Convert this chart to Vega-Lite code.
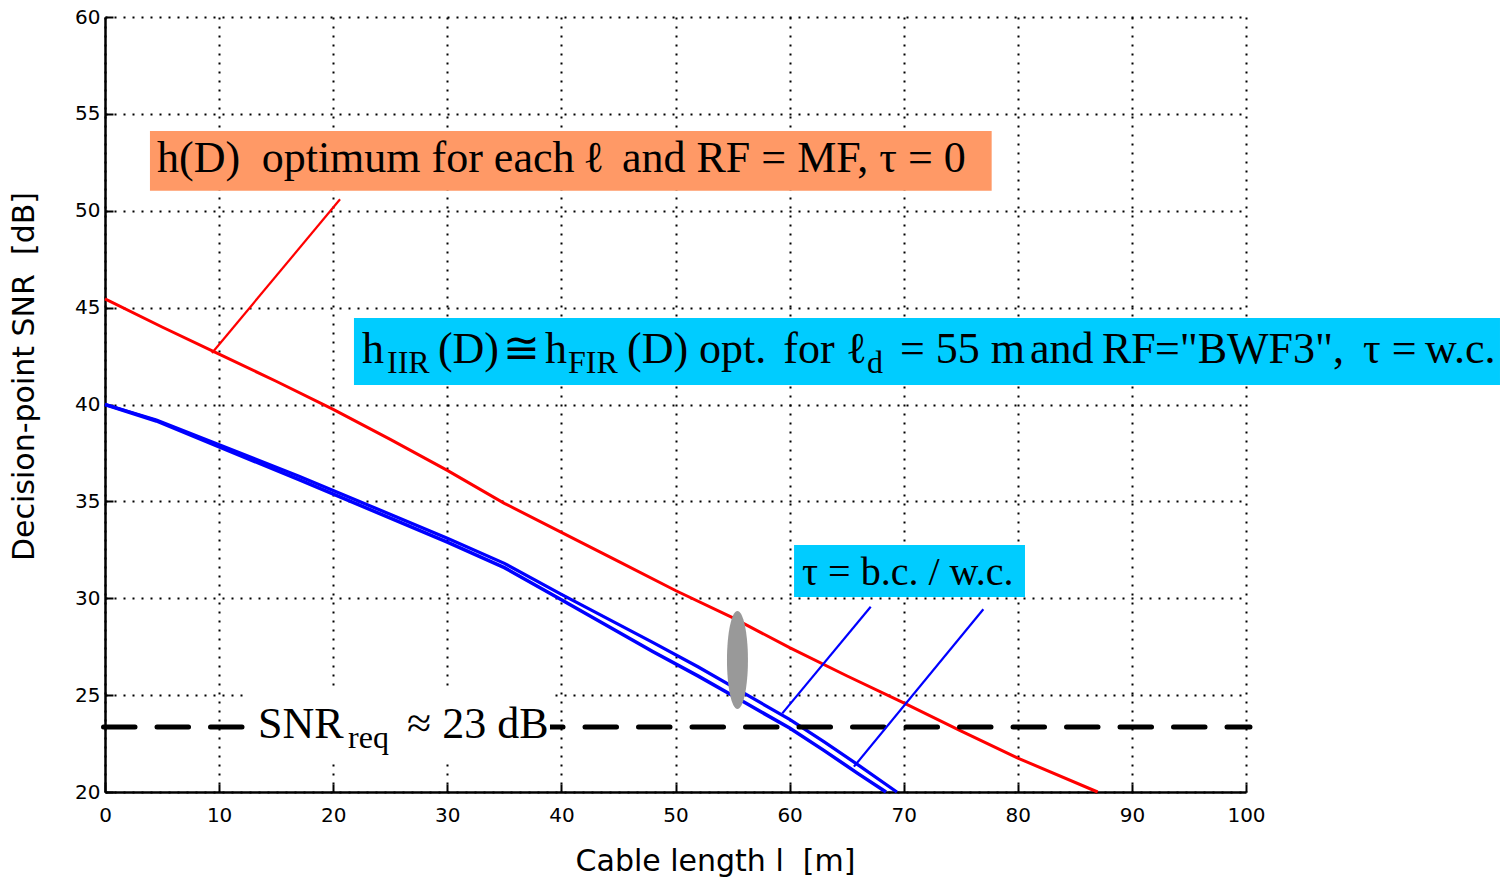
{
  "$schema": "https://vega.github.io/schema/vega-lite/v6.json",
  "width": 1141,
  "height": 775,
  "autosize": {"type": "none"},
  "padding": {"left": 105, "top": 17, "right": 258, "bottom": 90},
  "background": "white",
  "config": {
    "view": {"stroke": null},
    "axis": {
      "grid": true,
      "gridColor": "#000000",
      "gridDash": [2, 7],
      "gridWidth": 2,
      "gridOpacity": 1,
      "domainColor": "#000000",
      "domainWidth": 2.5,
      "tickColor": "#000000",
      "tickSize": -8,
      "tickWidth": 2,
      "labelFont": "DejaVu Sans",
      "labelFontSize": 20,
      "labelColor": "#000000",
      "labelFlush": false,
      "labelOverlap": false,
      "titleFont": "DejaVu Sans",
      "titleFontSize": 30,
      "titleFontWeight": "normal",
      "titleColor": "#000000"
    }
  },
  "datasets": {
    "curves": [
      {"series": "h(D) optimum, RF = MF, τ = 0", "length": 0, "snr": 45.45},
      {"series": "h(D) optimum, RF = MF, τ = 0", "length": 5, "snr": 44.0},
      {"series": "h(D) optimum, RF = MF, τ = 0", "length": 10, "snr": 42.6},
      {"series": "h(D) optimum, RF = MF, τ = 0", "length": 15, "snr": 41.2},
      {"series": "h(D) optimum, RF = MF, τ = 0", "length": 20, "snr": 39.75},
      {"series": "h(D) optimum, RF = MF, τ = 0", "length": 25, "snr": 38.2},
      {"series": "h(D) optimum, RF = MF, τ = 0", "length": 30, "snr": 36.6},
      {"series": "h(D) optimum, RF = MF, τ = 0", "length": 35, "snr": 34.9},
      {"series": "h(D) optimum, RF = MF, τ = 0", "length": 40, "snr": 33.4},
      {"series": "h(D) optimum, RF = MF, τ = 0", "length": 45, "snr": 31.9},
      {"series": "h(D) optimum, RF = MF, τ = 0", "length": 50, "snr": 30.4},
      {"series": "h(D) optimum, RF = MF, τ = 0", "length": 55, "snr": 29.0},
      {"series": "h(D) optimum, RF = MF, τ = 0", "length": 60, "snr": 27.45},
      {"series": "h(D) optimum, RF = MF, τ = 0", "length": 65, "snr": 26.0},
      {"series": "h(D) optimum, RF = MF, τ = 0", "length": 70, "snr": 24.6},
      {"series": "h(D) optimum, RF = MF, τ = 0", "length": 75, "snr": 23.15},
      {"series": "h(D) optimum, RF = MF, τ = 0", "length": 80, "snr": 21.75},
      {"series": "h(D) optimum, RF = MF, τ = 0", "length": 87, "snr": 20.0},
      {"series": "τ = b.c.", "length": 0, "snr": 40.0},
      {"series": "τ = b.c.", "length": 4.5, "snr": 39.2},
      {"series": "τ = b.c.", "length": 17, "snr": 36.3},
      {"series": "τ = b.c.", "length": 30, "snr": 33.1},
      {"series": "τ = b.c.", "length": 35, "snr": 31.8},
      {"series": "τ = b.c.", "length": 40, "snr": 30.2},
      {"series": "τ = b.c.", "length": 48, "snr": 27.72},
      {"series": "τ = b.c.", "length": 52, "snr": 26.45},
      {"series": "τ = b.c.", "length": 56, "snr": 25.1},
      {"series": "τ = b.c.", "length": 60, "snr": 23.75},
      {"series": "τ = b.c.", "length": 63, "snr": 22.6},
      {"series": "τ = b.c.", "length": 66, "snr": 21.4},
      {"series": "τ = b.c.", "length": 69.4, "snr": 20.0},
      {"series": "τ = w.c.", "length": 0, "snr": 40.0},
      {"series": "τ = w.c.", "length": 4.5, "snr": 39.15},
      {"series": "τ = w.c.", "length": 17, "snr": 36.12},
      {"series": "τ = w.c.", "length": 30, "snr": 32.9},
      {"series": "τ = w.c.", "length": 35, "snr": 31.58},
      {"series": "τ = w.c.", "length": 40, "snr": 29.92},
      {"series": "τ = w.c.", "length": 48, "snr": 27.25},
      {"series": "τ = w.c.", "length": 52, "snr": 25.98},
      {"series": "τ = w.c.", "length": 56, "snr": 24.64},
      {"series": "τ = w.c.", "length": 60, "snr": 23.3},
      {"series": "τ = w.c.", "length": 63, "snr": 22.15},
      {"series": "τ = w.c.", "length": 66, "snr": 20.95},
      {"series": "τ = w.c.", "length": 68.45, "snr": 20.0}
    ],
    "requirement": [
      {"length": -0.13, "length2": 100.35, "snr": 23.35}
    ],
    "boxes": [
      {"box": "title", "length": 3.94, "length2": 77.71, "snr": 54.12, "snr2": 51.03},
      {"box": "filter", "length": 21.82, "length2": 122.26, "snr": 44.46, "snr2": 41.01},
      {"box": "tau", "length": 60.39, "length2": 80.63, "snr": 32.75, "snr2": 30.06},
      {"box": "mask", "length": 12.27, "length2": 39.0, "snr": 25.47, "snr2": 21.44}
    ],
    "pointers": [
      {"series": "h(D) optimum, RF = MF, τ = 0", "length": 20.6, "snr": 50.59, "length2": 9.38, "snr2": 42.66},
      {"series": "τ = b.c.", "length": 67.11, "snr": 29.56, "length2": 59.36, "snr2": 24.06},
      {"series": "τ = w.c.", "length": 76.98, "snr": 29.43, "length2": 65.64, "snr2": 21.31}
    ],
    "marker": [
      {"length": 55.43, "snr": 26.81}
    ],
    "labels": [
      {"role": "main", "length": 4.56, "snr": 52.0, "text": "h(D)"},
      {"role": "main", "length": 13.73, "snr": 52.0, "text": "optimum for each"},
      {"role": "main", "length": 41.89, "snr": 52.0, "text": "ℓ"},
      {"role": "main", "length": 45.31, "snr": 52.0, "text": "and RF = MF, τ = 0"},
      {"role": "main", "length": 22.52, "snr": 42.14, "text": "h"},
      {"role": "main", "length": 29.18, "snr": 42.14, "text": "(D)"},
      {"role": "main", "length": 34.88, "snr": 42.14, "text": "≅"},
      {"role": "main", "length": 38.56, "snr": 42.14, "text": "h"},
      {"role": "main", "length": 45.75, "snr": 42.14, "text": "(D) opt."},
      {"role": "main", "length": 59.45, "snr": 42.14, "text": "for ℓ"},
      {"role": "main", "length": 69.68, "snr": 42.14, "text": "= 55 m"},
      {"role": "main", "length": 81.07, "snr": 42.14, "text": "and"},
      {"role": "main", "length": 87.38, "snr": 42.14, "text": "RF"},
      {"role": "main", "length": 92.02, "snr": 42.14, "text": "=\"BWF3\","},
      {"role": "main", "length": 110.25, "snr": 42.14, "text": "τ ="},
      {"role": "main", "length": 115.69, "snr": 42.14, "text": "w.c."},
      {"role": "main", "length": 13.41, "snr": 22.79, "text": "SNR"},
      {"role": "main", "length": 26.47, "snr": 22.79, "text": "≈ 23 dB"},
      {"role": "sub", "length": 24.72, "snr": 41.63, "text": "IIR"},
      {"role": "sub", "length": 40.58, "snr": 41.63, "text": "FIR"},
      {"role": "sub", "length": 66.78, "snr": 41.63, "text": "d"},
      {"role": "sub", "length": 21.3, "snr": 22.27, "text": "req"},
      {"role": "note", "length": 61.09, "snr": 30.68, "text": "τ = b.c. / w.c."}
    ]
  },
  "layer": [
    {
      "data": {"name": "curves"},
      "mark": {"type": "line"},
      "encoding": {
        "x": {
          "field": "length",
          "type": "quantitative",
          "scale": {"domain": [0, 100], "nice": false, "zero": false},
          "axis": {
            "values": [0, 10, 20, 30, 40, 50, 60, 70, 80, 90, 100],
            "title": "Cable length l\u00a0\u00a0[m]",
            "labelPadding": 21,
            "labelDx": 3,
            "titleX": 610,
            "titleY": 78,
            "titleBaseline": "alphabetic",
            "titleAlign": "center"
          }
        },
        "y": {
          "field": "snr",
          "type": "quantitative",
          "scale": {"domain": [20, 60], "nice": false, "zero": false},
          "axis": {
            "values": [20, 25, 30, 35, 40, 45, 50, 55, 60],
            "title": "Decision-point SNR\u00a0\u00a0[dB]",
            "labelPadding": 13,
            "titleAngle": 270,
            "titleX": -72,
            "titleY": 359,
            "titleBaseline": "alphabetic",
            "titleAlign": "center"
          }
        },
        "color": {
          "field": "series",
          "type": "nominal",
          "scale": {
            "domain": ["h(D) optimum, RF = MF, τ = 0", "τ = b.c.", "τ = w.c."],
            "range": ["#FF0000", "#0000FF", "#0000FF"]
          },
          "legend": null
        },
        "strokeWidth": {
          "field": "series",
          "type": "nominal",
          "scale": {
            "domain": ["h(D) optimum, RF = MF, τ = 0", "τ = b.c.", "τ = w.c."],
            "range": [3, 3.5, 3.5]
          },
          "legend": null
        }
      }
    },
    {
      "data": {"name": "requirement"},
      "mark": {"type": "rule", "color": "#000000", "strokeWidth": 5, "strokeDash": [31.5, 22], "strokeCap": "round"},
      "encoding": {
        "x": {"field": "length", "type": "quantitative"},
        "x2": {"field": "length2"},
        "y": {"field": "snr", "type": "quantitative"}
      }
    },
    {
      "data": {"name": "boxes"},
      "mark": {"type": "rect", "strokeWidth": 0},
      "encoding": {
        "x": {"field": "length", "type": "quantitative"},
        "x2": {"field": "length2"},
        "y": {"field": "snr", "type": "quantitative"},
        "y2": {"field": "snr2"},
        "fill": {
          "field": "box",
          "type": "nominal",
          "scale": {"domain": ["title", "filter", "tau", "mask"], "range": ["#FF9966", "#00CCFF", "#00CCFF", "#FFFFFF"]},
          "legend": null
        }
      }
    },
    {
      "data": {"name": "pointers"},
      "mark": {"type": "rule", "strokeWidth": 2.2},
      "encoding": {
        "x": {"field": "length", "type": "quantitative"},
        "x2": {"field": "length2"},
        "y": {"field": "snr", "type": "quantitative"},
        "y2": {"field": "snr2"},
        "color": {"field": "series", "type": "nominal", "legend": null}
      }
    },
    {
      "data": {"name": "marker"},
      "mark": {
        "type": "point",
        "filled": true,
        "shape": "M0,-1 A0.214,1 0 1,1 0,1 A0.214,1 0 1,1 0,-1 Z",
        "size": 9604,
        "color": "#999999",
        "opacity": 1,
        "strokeWidth": 0
      },
      "encoding": {
        "x": {"field": "length", "type": "quantitative"},
        "y": {"field": "snr", "type": "quantitative"}
      }
    },
    {
      "data": {"name": "labels"},
      "transform": [{"filter": "datum.role === 'main'"}],
      "mark": {"type": "text", "font": "Liberation Serif", "fontSize": 44, "align": "left", "baseline": "alphabetic", "color": "#000000"},
      "encoding": {
        "x": {"field": "length", "type": "quantitative"},
        "y": {"field": "snr", "type": "quantitative"},
        "text": {"field": "text"}
      }
    },
    {
      "data": {"name": "labels"},
      "transform": [{"filter": "datum.role === 'sub'"}],
      "mark": {"type": "text", "font": "Liberation Serif", "fontSize": 32, "align": "left", "baseline": "alphabetic", "color": "#000000"},
      "encoding": {
        "x": {"field": "length", "type": "quantitative"},
        "y": {"field": "snr", "type": "quantitative"},
        "text": {"field": "text"}
      }
    },
    {
      "data": {"name": "labels"},
      "transform": [{"filter": "datum.role === 'note'"}],
      "mark": {"type": "text", "font": "Liberation Serif", "fontSize": 40, "align": "left", "baseline": "alphabetic", "color": "#000000"},
      "encoding": {
        "x": {"field": "length", "type": "quantitative"},
        "y": {"field": "snr", "type": "quantitative"},
        "text": {"field": "text"}
      }
    }
  ]
}
